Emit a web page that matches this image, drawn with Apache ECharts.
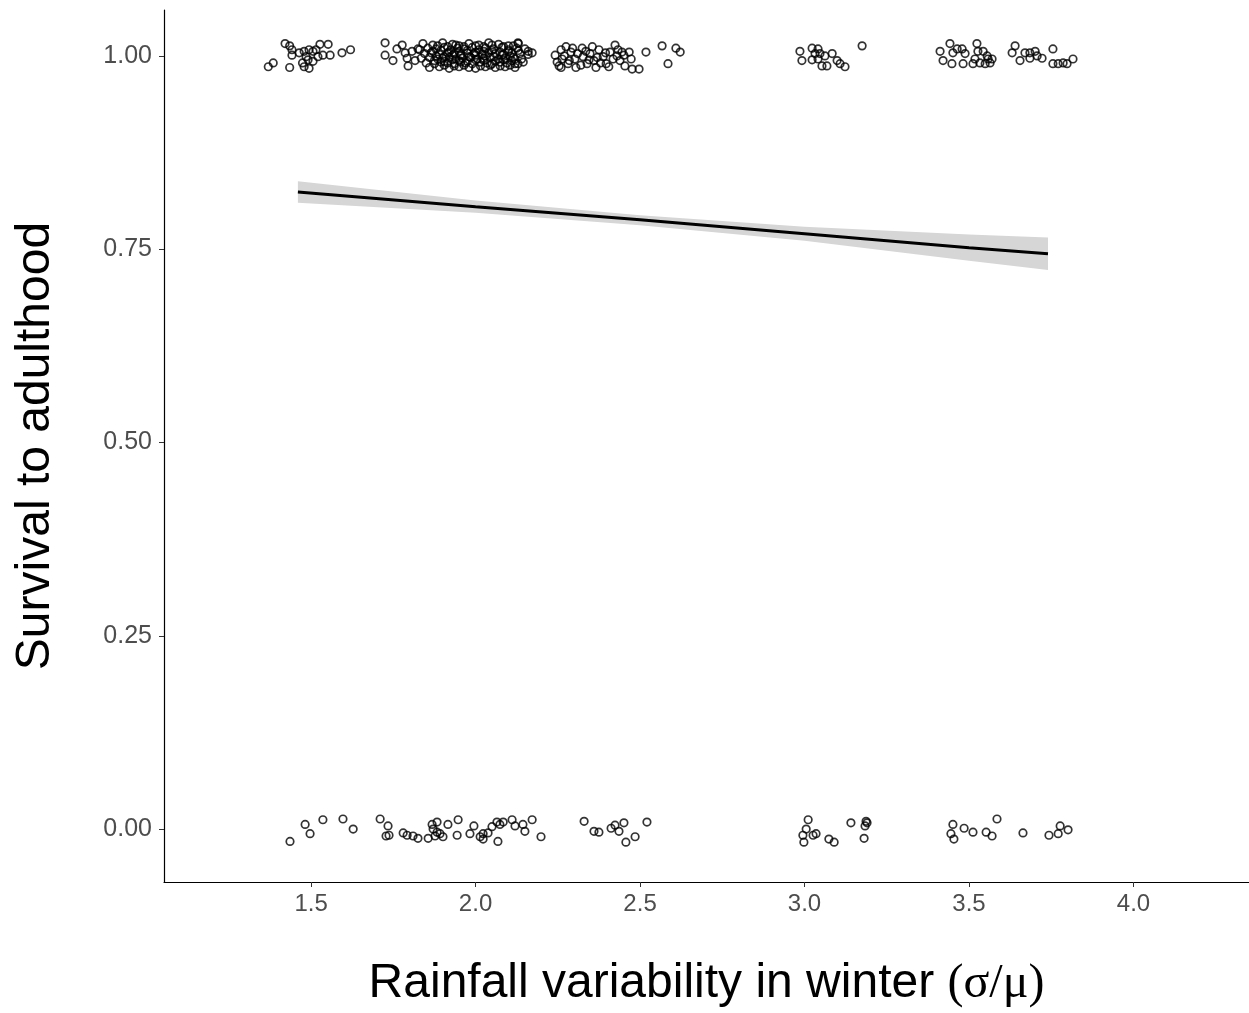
<!DOCTYPE html>
<html>
<head>
<meta charset="utf-8">
<script src="https://cdn.jsdelivr.net/npm/echarts@6/dist/echarts.min.js"></script>
<style>
  html, body { margin: 0; padding: 0; background: #fff; }
  #chart { width: 1249px; height: 1013px; }
</style>
</head>
<body>
<div id="chart"></div>
<script>
// x ticks / y ticks
const xTicks = [1.5, 2.0, 2.5, 3.0, 3.5, 4.0];
const yTicks = [0, 0.25, 0.5, 0.75, 1.0];

// individuals that survived (jittered around 1)
const survived = [
  [1.370,0.986],[1.385,0.991],[1.421,1.016],[1.435,1.013],[1.442,1.001],[1.435,0.985],[1.474,0.991],[1.485,0.999],
  [1.494,1.008],[1.506,1.006],[1.515,1.008],[1.527,1.015],[1.552,1.015],[1.536,1.001],[1.558,1.001],[1.594,1.004],
  [1.620,1.008],[1.494,0.984],[1.479,0.986],[1.506,0.993],[1.491,0.995],[1.521,0.999],[1.464,1.004],[1.479,1.006],[1.442,1.008],
  [1.725,1.017],[1.725,1.001],[1.749,0.994],[1.761,1.009],[1.777,1.014],[1.786,1.004],[1.792,0.997],[1.795,0.987],
  [1.807,1.006],[1.816,0.994],[1.825,1.009],
  [1.84,1.016],[1.87,1.014],[1.90,1.017],[1.93,1.015],[1.95,1.013],[1.98,1.016],[2.01,1.014],[2.04,1.017],[2.07,1.015],[2.10,1.013],[2.13,1.016],
  [1.83,1.008],[1.855,1.010],[1.88,1.009],[1.905,1.011],[1.925,1.008],[1.945,1.010],[1.965,1.009],[1.99,1.011],[2.01,1.008],
  [2.03,1.010],[2.055,1.009],[2.08,1.011],[2.10,1.008],[2.125,1.010],[2.15,1.009],
  [1.845,1.003],[1.865,1.004],[1.89,1.002],[1.915,1.004],[1.935,1.003],[1.955,1.002],[1.975,1.004],[1.995,1.003],[2.02,1.002],
  [2.04,1.004],[2.06,1.003],[2.085,1.002],[2.11,1.004],[2.135,1.003],[2.16,1.002],
  [1.835,0.997],[1.86,0.998],[1.885,0.996],[1.90,0.997],[1.92,0.998],[1.94,0.996],[1.96,0.997],[1.985,0.998],[2.005,0.996],
  [2.025,0.997],[2.045,0.998],[2.07,0.996],[2.09,0.997],[2.115,0.998],[2.14,0.996],
  [1.85,0.991],[1.875,0.990],[1.895,0.992],[1.915,0.991],[1.935,0.990],[1.955,0.992],[1.97,0.991],[1.99,0.990],[2.015,0.992],
  [2.035,0.991],[2.05,0.990],[2.075,0.992],[2.095,0.991],[2.12,0.990],[2.145,0.992],
  [1.86,0.985],[1.89,0.986],[1.92,0.984],[1.95,0.986],[1.98,0.985],[2.00,0.984],[2.03,0.986],[2.06,0.985],[2.09,0.986],[2.12,0.985],
  [1.885,1.013],[1.915,1.012],[1.94,1.014],[1.965,1.012],[2.00,1.013],[2.025,1.012],[2.05,1.014],[2.085,1.012],[2.115,1.013],
  [1.87,1.006],[1.895,1.007],[1.92,1.005],[1.95,1.006],[1.975,1.007],[2.00,1.005],[2.025,1.006],[2.05,1.007],[2.075,1.005],
  [2.10,1.006],[2.13,1.007],
  [1.88,1.000],[1.905,0.999],[1.93,1.001],[1.955,1.000],[1.98,0.999],[2.00,1.001],[2.03,1.000],[2.055,0.999],[2.08,1.001],[2.105,1.000],
  [1.875,0.994],[1.905,0.993],[1.93,0.995],[1.95,0.994],[1.975,0.993],[2.00,0.995],[2.025,0.994],[2.06,0.993],[2.085,0.995],[2.11,0.994],
  [1.905,0.988],[1.935,0.987],[1.965,0.988],[2.015,0.987],[2.045,0.988],[2.075,0.987],[2.105,0.988],
  [2.129,1.017],[2.160,1.006],[2.172,1.004],[2.120,0.996],[2.129,0.990],
  [2.260,1.008],[2.275,1.012],[2.290,1.005],[2.263,0.996],[2.254,0.987],[2.281,0.990],[2.302,0.996],[2.305,0.985],
  [2.324,1.010],[2.327,0.999],[2.339,0.990],[2.348,1.003],[2.360,0.994],[2.366,0.985],[2.375,1.008],[2.388,0.999],
  [2.397,0.990],[2.409,1.005],[2.418,0.996],[2.424,1.014],[2.433,1.008],[2.439,0.994],[2.451,1.001],[2.454,0.987],
  [2.473,0.996],[2.476,0.983],[2.497,0.983],[2.467,1.005],[2.242,1.001],[2.248,0.992],
  [2.27,1.000],[2.285,0.994],[2.295,1.010],[2.31,1.003],[2.335,1.006],[2.345,0.995],[2.355,1.012],[2.37,0.998],
  [2.38,0.991],[2.395,1.004],[2.405,0.986],[2.43,1.000],[2.445,1.005],[2.26,0.985],[2.32,0.988],
  [2.518,1.005],[2.567,1.013],[2.609,1.010],[2.622,1.005],[2.585,0.990],
  [2.986,1.006],[2.992,0.994],[3.023,1.010],[3.023,0.995],[3.041,1.009],[3.041,0.996],[3.053,0.987],[3.062,1.000],
  [3.068,0.987],[3.084,1.003],[3.099,0.994],[3.108,0.990],[3.123,0.986],[3.175,1.013],[3.047,1.003],[3.032,1.003],
  [3.412,1.006],[3.421,0.994],[3.442,1.016],[3.451,1.004],[3.448,0.990],[3.464,1.009],[3.479,1.009],[3.482,0.990],
  [3.488,1.003],[3.524,1.016],[3.527,1.006],[3.543,1.006],[3.518,0.996],[3.512,0.990],[3.533,0.991],[3.549,0.990],
  [3.558,0.996],[3.564,0.991],[3.570,0.996],[3.555,1.000],
  [3.631,1.004],[3.640,1.013],[3.655,0.994],[3.670,1.004],[3.685,1.004],[3.701,1.006],[3.707,1.000],[3.722,0.997],
  [3.685,0.997],[3.755,1.009],[3.755,0.990],[3.771,0.990],[3.786,0.991],[3.798,0.990],[3.816,0.996]
];

// individuals that died (jittered around 0)
const died = [
  [1.436,-0.016],[1.482,0.006],[1.497,-0.006],[1.536,0.012],[1.597,0.013],[1.628,0.000],[1.710,0.013],[1.734,0.004],
  [1.728,-0.009],[1.737,-0.008],[1.780,-0.005],[1.792,-0.008],[1.810,-0.009],[1.825,-0.012],[1.856,-0.012],[1.868,0.006],
  [1.883,0.009],[1.871,0.000],[1.883,-0.004],[1.877,-0.009],[1.892,-0.006],[1.901,-0.010],[1.916,0.006],[1.947,0.012],
  [1.944,-0.008],[1.983,-0.006],[1.995,0.004],[2.023,-0.006],[2.023,-0.013],[2.038,-0.005],[2.050,0.003],[2.065,0.009],
  [2.068,-0.016],[2.074,0.006],[2.084,0.009],[2.111,0.012],[2.120,0.004],[2.144,0.006],[2.150,-0.003],[2.172,0.012],
  [2.199,-0.010],[2.014,-0.010],
  [2.330,0.010],[2.360,-0.003],[2.375,-0.004],[2.412,0.001],[2.424,0.005],[2.436,-0.003],[2.451,0.008],[2.457,-0.017],
  [2.485,-0.010],[2.521,0.009],
  [3.011,0.012],[3.005,0.000],[2.995,-0.008],[2.998,-0.017],[3.026,-0.008],[3.035,-0.006],[3.074,-0.013],[3.090,-0.017],
  [3.141,0.008],[3.187,0.010],[3.184,0.004],[3.181,-0.012],[3.190,0.008],
  [3.451,0.006],[3.445,-0.006],[3.454,-0.013],[3.485,0.001],[3.512,-0.004],[3.552,-0.004],[3.570,-0.009],[3.585,0.013],
  [3.664,-0.005],[3.743,-0.008],[3.771,-0.006],[3.777,0.004],[3.801,-0.001]
];

// fitted curve and confidence band
const fitX = [1.46, 2.0, 2.5, 3.0, 3.5, 3.74];
const fitY = [0.824, 0.805, 0.788, 0.770, 0.752, 0.744];
const bandLow = [0.810, 0.797, 0.781, 0.761, 0.735, 0.723];
const bandHigh = [0.838, 0.813, 0.794, 0.779, 0.769, 0.765];

const chart = echarts.init(document.getElementById('chart'));

const pointStyle = {
  color: 'rgba(0,0,0,0)',
  borderColor: '#000',
  borderWidth: 1.7
};

chart.setOption({
  backgroundColor: '#fff',
  animation: false,
  grid: { left: 164, right: 0, top: 10, bottom: 130 },
  xAxis: {
    type: 'value',
    min: 1.053,
    max: 4.351,
    splitLine: { show: false },
    axisLine: { onZero: false, lineStyle: { color: '#000', width: 1.2 } },
    axisTick: { show: true, length: 5, customValues: xTicks, lineStyle: { color: '#333' } },
    axisLabel: {
      customValues: xTicks,
      formatter: v => v.toFixed(1),
      fontSize: 24,
      color: '#4d4d4d',
      margin: 10,
      fontFamily: 'Liberation Sans'
    },
    name: '{a|Rainfall variability in winter }{b|(σ/μ)}',
    nameLocation: 'middle',
    nameGap: 78,
    nameTextStyle: {
      rich: {
        a: { fontSize: 48, fontFamily: 'Liberation Sans', color: '#000' },
        b: { fontSize: 48, fontFamily: 'Liberation Serif', color: '#000' }
      }
    }
  },
  yAxis: {
    type: 'value',
    min: -0.0685,
    max: 1.0594,
    splitLine: { show: false },
    axisLine: { show: true, onZero: false, lineStyle: { color: '#000', width: 1.2 } },
    axisTick: { show: true, length: 5, customValues: yTicks, lineStyle: { color: '#333' } },
    axisLabel: {
      customValues: yTicks,
      formatter: v => v.toFixed(2),
      fontSize: 25,
      color: '#4d4d4d',
      margin: 12,
      fontFamily: 'Liberation Sans'
    },
    name: 'Survival to adulthood',
    nameLocation: 'middle',
    nameGap: 104,
    nameTextStyle: { fontSize: 48, fontFamily: 'Liberation Sans', color: '#000' }
  },
  series: [
    {
      type: 'custom',
      z: 1,
      data: [[fitX[0], fitY[0]]],
      renderItem: (params, api) => {
        const pts = [];
        for (let i = 0; i < fitX.length; i++) pts.push(api.coord([fitX[i], bandHigh[i]]));
        for (let i = fitX.length - 1; i >= 0; i--) pts.push(api.coord([fitX[i], bandLow[i]]));
        return { type: 'polygon', shape: { points: pts }, style: { fill: '#d6d6d6' } };
      }
    },
    {
      type: 'line',
      z: 2,
      data: fitX.map((x, i) => [x, fitY[i]]),
      showSymbol: false,
      lineStyle: { color: '#000', width: 3 }
    },
    {
      type: 'scatter',
      z: 3,
      data: survived,
      symbol: 'circle',
      symbolSize: 7.5,
      itemStyle: pointStyle
    },
    {
      type: 'scatter',
      z: 3,
      data: died,
      symbol: 'circle',
      symbolSize: 7.5,
      itemStyle: pointStyle
    }
  ]
});
</script>
</body>
</html>
